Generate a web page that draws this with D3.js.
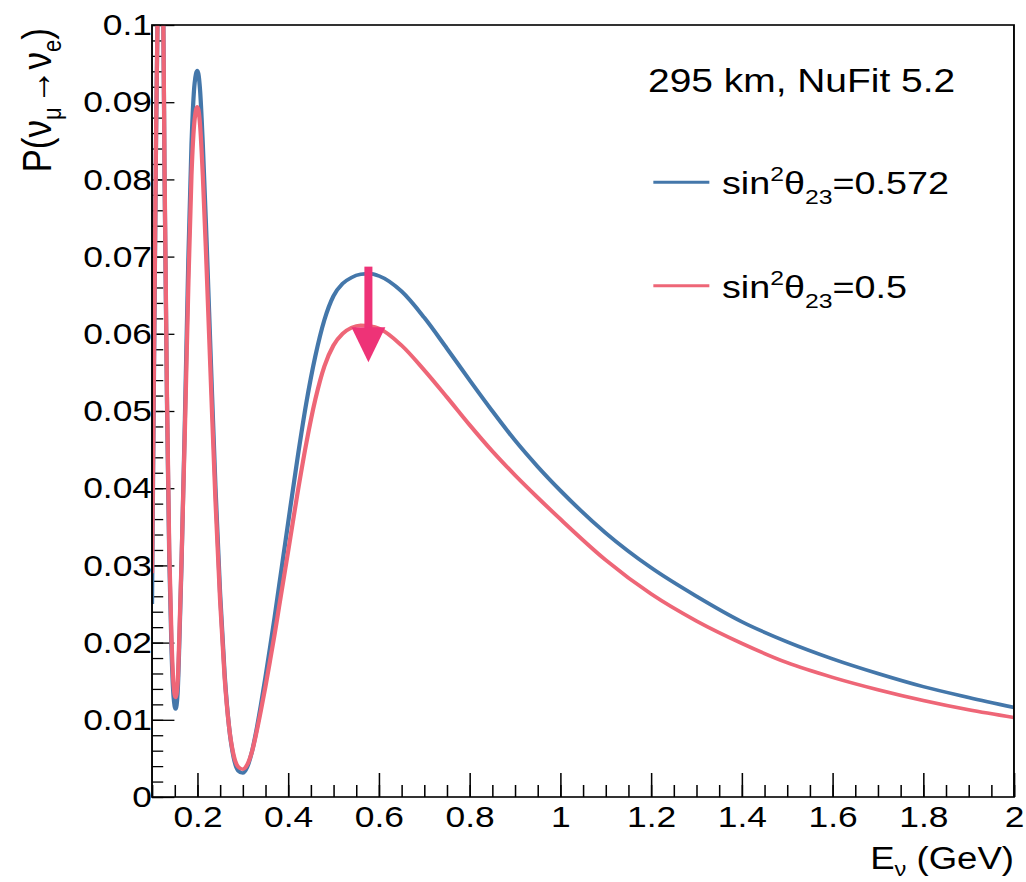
<!DOCTYPE html>
<html>
<head>
<meta charset="utf-8">
<script src="https://cdn.jsdelivr.net/npm/d3@7"></script>
<style>
body { margin: 0; background: #fff; }
svg { display: block; }
text { font-family: "Liberation Sans", Arial, Helvetica, sans-serif; fill: #000; }
</style>
</head>
<body>
<div id="chart"></div>
<script>
// energies (GeV) shared by both curves
var energy = [0.100, 0.103, 0.106, 0.109, 0.112, 0.1185, 0.125, 0.1275, 0.133, 0.138,
    0.143, 0.1475, 0.152, 0.1565, 0.160, 0.165, 0.1725, 0.180, 0.187, 0.194,
    0.200, 0.206, 0.212, 0.220, 0.230, 0.240, 0.250, 0.260, 0.270, 0.280,
    0.290, 0.300, 0.310, 0.320, 0.330, 0.340, 0.350, 0.360, 0.370, 0.380,
    0.390, 0.400, 0.420, 0.440, 0.460, 0.480, 0.500, 0.520, 0.540, 0.560,
    0.580, 0.600, 0.650, 0.700, 0.750, 0.800, 0.850, 0.900, 0.950, 1.000,
    1.100, 1.200, 1.300, 1.400, 1.500, 1.600, 1.700, 1.800, 1.900, 2.000];

// sin^2 theta23 = 0.572
var probBlue = [0.0250, 0.046, 0.066, 0.086, 0.100, 0.112, 0.100, 0.081, 0.051, 0.031,
    0.019, 0.0130, 0.0114, 0.0135, 0.0195, 0.030, 0.049, 0.0695, 0.0845, 0.0925,
    0.0941, 0.0915, 0.0845, 0.0725, 0.0560, 0.0400, 0.0265, 0.0160, 0.0090, 0.0051,
    0.0034, 0.0031, 0.0039, 0.0058, 0.0086, 0.0119, 0.0155, 0.0193, 0.0232, 0.0273,
    0.0314, 0.0355, 0.0436, 0.0510, 0.0571, 0.0618, 0.0649, 0.0665, 0.0673, 0.0677,
    0.0678, 0.0675, 0.0655, 0.0621, 0.0581, 0.0540, 0.0500, 0.0462, 0.0428, 0.0397,
    0.0342, 0.0297, 0.0260, 0.0227, 0.0201, 0.0179, 0.0160, 0.0143, 0.0129, 0.0116];

// sin^2 theta23 = 0.5
var probRed = [0.0290, 0.048, 0.067, 0.086, 0.100, 0.109, 0.100, 0.082, 0.052, 0.032,
    0.0205, 0.0145, 0.0129, 0.0148, 0.0205, 0.0305, 0.0475, 0.066, 0.0805, 0.0878,
    0.0894, 0.0870, 0.0805, 0.0690, 0.0533, 0.0382, 0.0255, 0.0155, 0.0090, 0.0054,
    0.0039, 0.0036, 0.0042, 0.0058, 0.0083, 0.0112, 0.0143, 0.0176, 0.0210, 0.0246,
    0.0282, 0.0318, 0.0391, 0.0458, 0.0515, 0.0558, 0.0585, 0.0600, 0.0608, 0.0611,
    0.0610, 0.0607, 0.0585, 0.0553, 0.0518, 0.0482, 0.0448, 0.0417, 0.0388, 0.0360,
    0.0307, 0.0263, 0.0228, 0.0199, 0.0174, 0.0155, 0.0139, 0.0125, 0.0113, 0.0103];

var xMajorTicks = [0.2, 0.4, 0.6, 0.8, 1.0, 1.2, 1.4, 1.6, 1.8, 2.0];
var xTickLabels = ["0.2", "0.4", "0.6", "0.8", "1", "1.2", "1.4", "1.6", "1.8", "2"];
var yMajorTicks = [0, 0.01, 0.02, 0.03, 0.04, 0.05, 0.06, 0.07, 0.08, 0.09, 0.1];
var yTickLabels = ["0", "0.01", "0.02", "0.03", "0.04", "0.05", "0.06", "0.07", "0.08", "0.09", "0.1"];

// arrow from the 0.572 maximum down to the 0.5 maximum
var arrowEnergy = 0.577;
var arrowFrom = 0.0687;
var arrowTo = 0.0563;

var seriesDefs = [
    { values: probBlue, color: "#4477AA", mix: "0.572" },
    { values: probRed, color: "#EE6677", mix: "0.5" }
];

function drawChart() {
    // the reference is horizontally stretched, so draw in a narrower viewBox and stretch it
    var viewW = 870, viewH = 882;
    var margin = {top: 25, right: 10.2, bottom: 85, left: 128.9};
    var width = viewW - margin.left - margin.right;
    var height = viewH - margin.top - margin.bottom;

    var root = d3.select("#chart").append("svg")
        .attr("width", 1026)
        .attr("height", 882)
        .attr("viewBox", "0 0 " + viewW + " " + viewH)
        .attr("preserveAspectRatio", "none");

    var svg = root.append("g")
        .attr("transform", "translate(" + margin.left + "," + margin.top + ")");

    var x = d3.scaleLinear().domain([0.1, 2.0]).range([0, width]);
    var y = d3.scaleLinear().domain([0, 0.1]).range([height, 0]);

    root.append("defs").append("clipPath")
        .attr("id", "plotClip")
        .append("rect")
        .attr("width", width)
        .attr("height", height);

    // minor ticks
    svg.append("g")
        .attr("class", "axis")
        .attr("transform", "translate(0," + height + ")")
        .call(d3.axisBottom(x).tickValues(d3.range(0, 39).map(function(i) { return 0.1 + i * 0.05; }))
            .tickSize(-12).tickFormat(""));
    svg.append("g")
        .attr("class", "axis")
        .call(d3.axisLeft(y).tickValues(d3.range(0, 51).map(function(i) { return i * 0.002; }))
            .tickSize(-9.5).tickFormat(""));

    // major ticks with labels
    svg.append("g")
        .attr("class", "axis")
        .attr("transform", "translate(0," + height + ")")
        .call(d3.axisBottom(x).tickValues(xMajorTicks).tickSize(-24).tickPadding(9)
            .tickFormat(function(d, i) { return xTickLabels[i]; }));
    svg.append("g")
        .attr("class", "axis")
        .call(d3.axisLeft(y).tickValues(yMajorTicks).tickSize(-19).tickPadding(0)
            .tickFormat(function(d, i) { return yTickLabels[i]; }));

    svg.selectAll(".axis path.domain").remove();
    svg.selectAll(".axis line").attr("stroke", "#000").attr("stroke-width", 1.3);
    svg.selectAll(".axis text")
        .style("font-size", "30px")
        .style("font-family", "'Liberation Sans', Arial, sans-serif")
        .attr("fill", "#000");

    // curves
    var lineGen = d3.line()
        .x(function(d) { return x(d.e); })
        .y(function(d) { return y(d.p); })
        .curve(d3.curveMonotoneX);

    var curves = svg.append("g").attr("clip-path", "url(#plotClip)");
    seriesDefs.forEach(function(def) {
        var pts = energy.map(function(e, i) { return {e: e, p: def.values[i]}; });
        curves.append("path")
            .datum(pts)
            .attr("d", lineGen)
            .attr("fill", "none")
            .attr("stroke", def.color)
            .attr("stroke-width", 3.6)
            .attr("stroke-linejoin", "round");
    });

    // frame
    svg.append("rect")
        .attr("width", width)
        .attr("height", height)
        .attr("fill", "none")
        .attr("stroke", "#000")
        .attr("stroke-width", 1.6);

    // arrow
    var ax = x(arrowEnergy);
    var headLen = 35, headHalf = 14.4, shaftHalf = 3.4;
    svg.append("rect")
        .attr("x", ax - shaftHalf)
        .attr("y", y(arrowFrom))
        .attr("width", shaftHalf * 2)
        .attr("height", y(arrowTo) - headLen - y(arrowFrom) + 1)
        .attr("fill", "#EE3377");
    svg.append("path")
        .attr("d", "M" + (ax - headHalf) + "," + (y(arrowTo) - headLen) +
            "L" + (ax + headHalf) + "," + (y(arrowTo) - headLen) +
            "L" + ax + "," + y(arrowTo) + "Z")
        .attr("fill", "#EE3377");

    // annotation
    svg.append("text")
        .attr("x", 549.5 - margin.left)
        .attr("y", 92 - margin.top)
        .style("font-size", "33px")
        .text("295 km, NuFit 5.2");

    // legend
    seriesDefs.forEach(function(def, i) {
        var ly = 182.3 - margin.top + i * 103.4;
        svg.append("line")
            .attr("x1", 554 - margin.left)
            .attr("x2", 601.5 - margin.left)
            .attr("y1", ly)
            .attr("y2", ly)
            .attr("stroke", def.color)
            .attr("stroke-width", 3);
        var t = svg.append("text")
            .attr("x", 612.2 - margin.left)
            .attr("y", ly + 12)
            .style("font-size", "32px");
        t.append("tspan").text("sin");
        t.append("tspan").attr("dy", -13).style("font-size", "21px").text("2");
        t.append("tspan").attr("dy", 13).text("θ");
        t.append("tspan").attr("dy", 10).style("font-size", "21px").text("23");
        t.append("tspan").attr("dy", -10).text("=" + def.mix);
    });

    // axis titles
    var xt = svg.append("text")
        .attr("x", width)
        .attr("y", 869 - margin.top)
        .attr("text-anchor", "end")
        .style("font-size", "31px");
    xt.append("tspan").text("E");
    xt.append("tspan").attr("dy", 7).style("font-size", "20px").text("ν");
    xt.append("tspan").attr("dy", -7).text(" (GeV)");

    var yt = svg.append("text")
        .attr("transform", "translate(" + (43 - margin.left) + "," + 3 + ") rotate(-90)")
        .attr("text-anchor", "end")
        .style("font-size", "35px");
    yt.append("tspan").text("P(ν");
    yt.append("tspan").attr("dy", 9).style("font-size", "22px").text("μ");
    yt.append("tspan").attr("dy", -9).attr("dx", 3).text("→ν");
    yt.append("tspan").attr("dy", 9).style("font-size", "22px").text("e");
    yt.append("tspan").attr("dy", -9).text(")");
}

drawChart();
</script>
</body>
</html>
